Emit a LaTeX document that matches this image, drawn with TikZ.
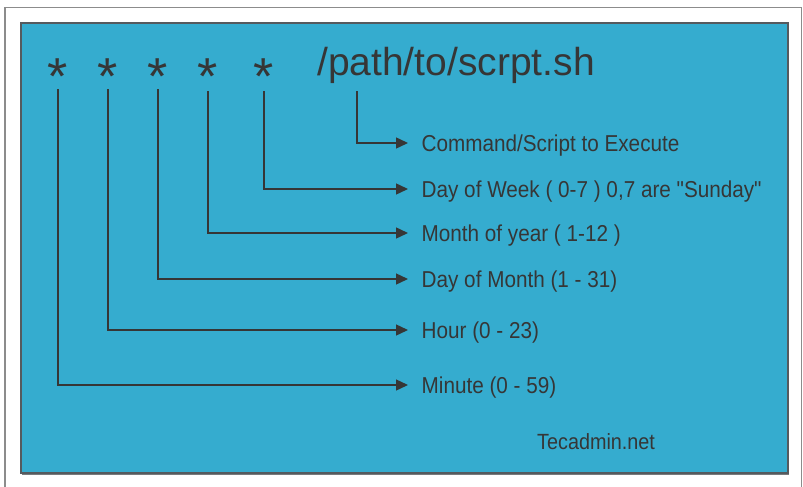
\documentclass[tikz,border=0pt]{standalone}
\usepackage{fontspec}
\setmainfont{Liberation Sans}
\newfontfamily\lblfont[FakeStretch=0.9]{Liberation Sans}
\usetikzlibrary{arrows.meta}
\definecolor{bgblue}{HTML}{35ACCF}
\definecolor{ink}{HTML}{363636}
\definecolor{framegrey}{HTML}{8C8C8C}
\definecolor{boxedge}{HTML}{555A5E}
\tikzset{
  arr/.style={draw=ink, line width=1.4pt, -{Triangle[length=12pt,width=11pt]}},
  lbl/.style={anchor=west, text=ink, inner xsep=13.5pt, inner ysep=0pt,
    font=\lblfont\fontsize{23}{26}\selectfont, text height=16.6pt, text depth=0pt},
  star/.style={anchor=base, text=ink, inner sep=0pt, font=\fontsize{52}{52}\selectfont},
}
\begin{document}
\begin{tikzpicture}[x=1pt,y=-1pt]
\useasboundingbox (0,0) rectangle (803,487);
\fill[white] (0,0) rectangle (803,487);
% outer frame
\draw[framegrey, line width=1.4pt] (5,490) -- (5,7.5) -- (801.5,7.5) -- (801.5,490);
% blue panel
\fill[bgblue] (21,23) rectangle (788,473);
\draw[boxedge, line width=1.3pt] (21,23) rectangle (788,473);
\draw[boxedge!80, line width=1.2pt] (22,474.2) -- (789,474.2);
% asterisks and command
\node[star] (s1) at (58,94) {*};
\node[star] (s2) at (108,94) {*};
\node[star] (s3) at (158,94) {*};
\node[star] (s4) at (208,94) {*};
\node[star] (s5) at (264,94) {*};
\node[anchor=base west, text=ink, inner sep=0pt, font=\fontsize{39}{40}\selectfont] (cmd) at (317,75) {/path/to/scrpt.sh};
% connector start points
\coordinate (c1) at (58,89);
\coordinate (c2) at (108,89);
\coordinate (c3) at (158,89);
\coordinate (c4) at (208,91);
\coordinate (c5) at (264,91);
\coordinate (c6) at (357,91);
% labels
\node[lbl] (lcmd)  at (408,143) {Command/Script to Execute};
\node[lbl] (ldow)  at (408,189) {Day of Week ( 0-7 ) 0,7 are "Sunday"};
\node[lbl] (lmon)  at (408,233) {Month of year ( 1-12 )};
\node[lbl] (ldom)  at (408,279) {Day of Month (1 - 31)};
\node[lbl] (lhour) at (408,330) {Hour (0 - 23)};
\node[lbl] (lmin)  at (408,385) {Minute (0 - 59)};
\node[anchor=west, text=ink, inner sep=0pt, font=\lblfont\fontsize{22}{24}\selectfont] (site) at (537,442) {Tecadmin.net};
% connectors
\draw[arr] (c6) |- (lcmd.west);
\draw[arr] (c5) |- (ldow.west);
\draw[arr] (c4) |- (lmon.west);
\draw[arr] (c3) |- (ldom.west);
\draw[arr] (c2) |- (lhour.west);
\draw[arr] (c1) |- (lmin.west);
\end{tikzpicture}
\end{document}
